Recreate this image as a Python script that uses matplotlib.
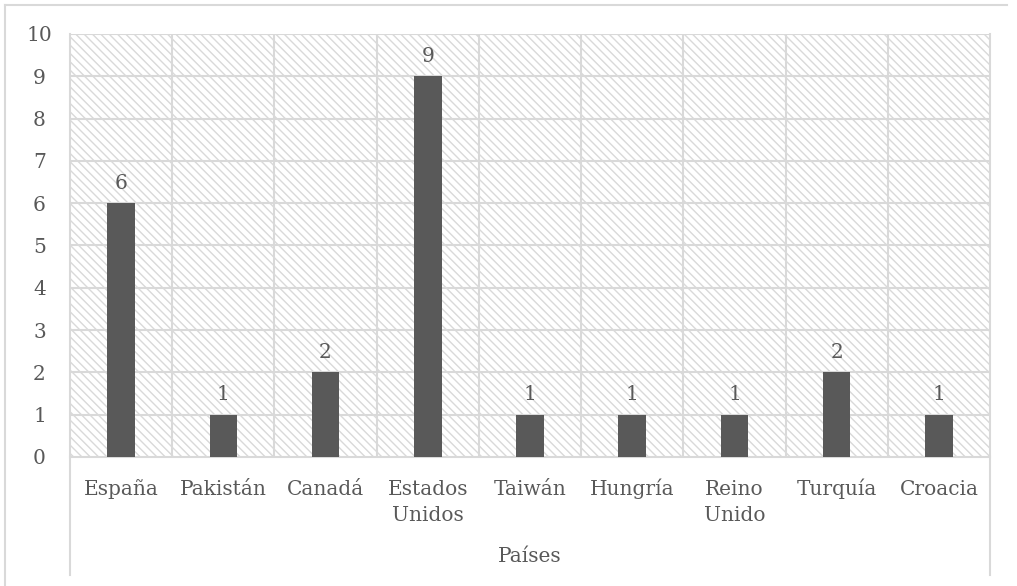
import matplotlib.pyplot as plt
from matplotlib.patches import Rectangle
from matplotlib.lines import Line2D

# Datos
paises = ['España', 'Pakistán', 'Canadá', 'Estados\nUnidos', 'Taiwán',
          'Hungría', 'Reino\nUnido', 'Turquía', 'Croacia']
valores = [6, 1, 2, 9, 1, 1, 1, 2, 1]
yticks = list(range(0, 11))

texto = '#595959'
gris = '#d9d9d9'
fs = 14.5
plt.rcParams['font.family'] = ['DejaVu Serif']
plt.rcParams['hatch.linewidth'] = 1.0
plt.rcParams['hatch.color'] = gris

fig = plt.figure(figsize=(10.17, 5.86), dpi=100)
ax = fig.add_axes([70 / 1017, 1 - 457 / 586, (990 - 70) / 1017, (457 - 34) / 586])

# fondo rayado
ax.add_patch(Rectangle((0, 0), 1, 1, transform=ax.transAxes, facecolor='white',
                       edgecolor=gris, hatch='\\\\\\\\', lw=0, zorder=0))

x = list(range(len(paises)))
ax.bar(x, valores, width=0.27, color='#595959', zorder=3)
for xi, v in zip(x, valores):
    ax.text(xi, v + 0.25, str(v), ha='center', va='bottom', fontsize=fs, color=texto)

ax.set_xlim(-0.5, len(paises) - 0.5)
ax.set_ylim(0, 10)
ax.set_yticks(yticks)
ax.set_xticks(x)
ax.set_xticklabels([])
ax.tick_params(axis='y', labelsize=fs, labelcolor=texto, length=0, pad=22)
ax.tick_params(axis='x', length=0)
for lab in ax.get_yticklabels():
    lab.set_horizontalalignment('center')

# etiquetas de categoria alineadas por la linea base (una linea cada vez)
for xi, p in zip(x, paises):
    for k, parte in enumerate(p.split('\n')):
        ax.text(xi, -(38 + 26 * k) / 423, parte, transform=ax.get_xaxis_transform(),
                ha='center', va='baseline', fontsize=fs, color=texto)

# cuadricula
for yv in yticks[1:]:
    ax.axhline(yv, color=gris, lw=1.5, zorder=1)
for i in range(len(paises) - 1):
    ax.axvline(i + 0.5, color=gris, lw=1.5, zorder=1)

for s in ['top', 'right', 'left']:
    ax.spines[s].set_visible(False)
ax.spines['bottom'].set_color(gris)
ax.spines['bottom'].set_linewidth(1.5)

# lineas del eje de categorias y borde
W, H = 1017, 586
def linea(x0, y0, x1, y1):
    fig.add_artist(Line2D([x0 / W, x1 / W], [1 - y0 / H, 1 - y1 / H],
                          color=gris, lw=1.5))
linea(70, 34, 70, 575)
linea(990, 34, 990, 575)
linea(5, 5, 1007, 5)
linea(5, 5, 5, 586)

fig.text((70 + 990) / 2 / W, 1 - 557 / H, 'Países', ha='center', va='center',
         fontsize=fs, color=texto)

fig.savefig('out.png', dpi=100)
